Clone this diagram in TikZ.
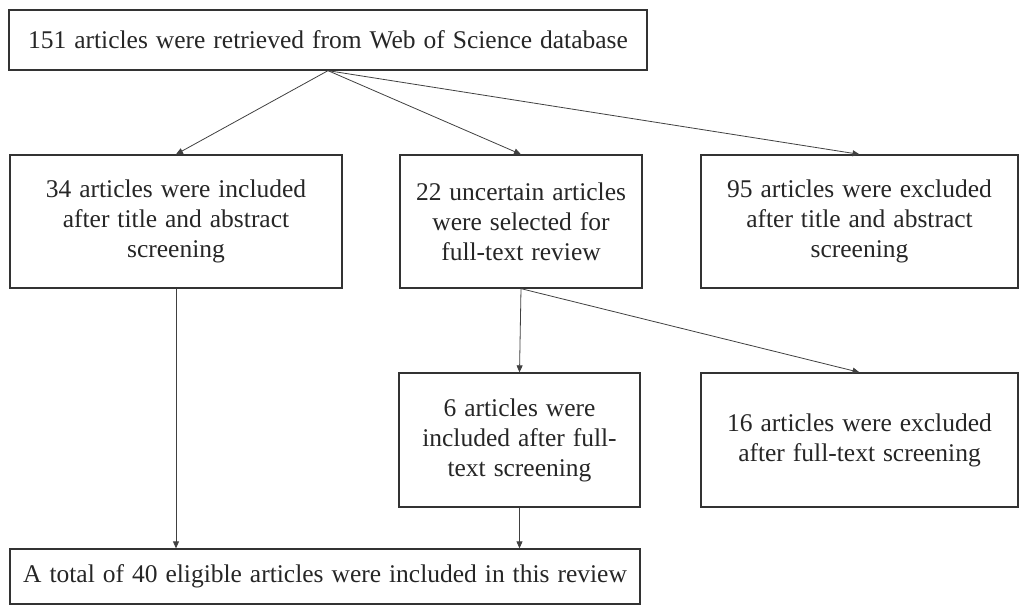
\documentclass[tikz,border=0pt]{standalone}
\usepackage{fontspec}
\setmainfont[WordSpace=1.25]{Liberation Serif}
\usetikzlibrary{arrows.meta}
\begin{document}
\begin{tikzpicture}[x=1pt,y=-1pt,
  box/.style={draw=black!80, line width=1.3pt, rectangle, align=center, inner sep=0pt,
    text=black!85, font=\fontsize{25.5}{30}\selectfont},
  arr/.style={draw=black!75, line width=0.8pt, -{Triangle[length=7pt,width=6pt]}}]
\useasboundingbox (0,0) rectangle (1020,608);
\node[box, minimum width=638pt, minimum height=60pt] (top) at (328,40)
  {151 articles were retrieved from Web of Science database};
\node[box, minimum width=332pt, minimum height=133pt] (b1) at (176,221.5)
  {34 articles were included\\after title and abstract\\screening};
\node[box, minimum width=242pt, minimum height=133pt] (b2) at (521,221.5)
  {22 uncertain articles\\were selected for\\full-text review};
\node[box, minimum width=317pt, minimum height=133pt] (b3) at (859.5,221.5)
  {95 articles were excluded\\after title and abstract\\screening};
\node[box, minimum width=241pt, minimum height=134pt] (b4) at (519.5,440)
  {6 articles were\\included after full-\\text screening};
\node[box, minimum width=317pt, minimum height=134pt] (b5) at (859.5,440)
  {16 articles were excluded\\after full-text screening};
\node[box, minimum width=630pt, minimum height=55pt] (bot) at (325,576.5)
  {A total of 40 eligible articles were included in this review};
\draw[arr] (top.south) -- (b1.north);
\draw[arr] (top.south) -- (b2.north);
\draw[arr] (top.south) -- (b3.north);
\draw[arr] (b2.south) -- (b4.north);
\draw[arr] (b2.south) -- (b5.north);
\draw[arr] (b1.south) -- (b1.south |- bot.north);
\draw[arr] (b4.south) -- (b4.south |- bot.north);
\end{tikzpicture}
\end{document}
